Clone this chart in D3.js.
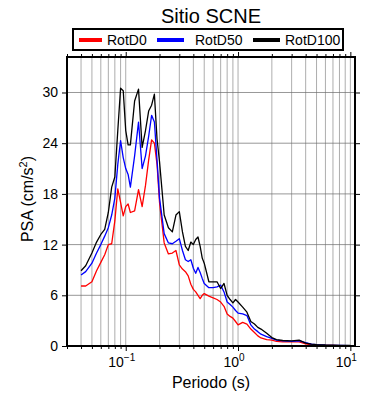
<!DOCTYPE html>
<html>
<head>
<meta charset="utf-8">
<script src="https://cdn.jsdelivr.net/npm/d3@7"></script>
<style>
  body { margin: 0; background: #fff; }
  svg { font-family: "Liberation Sans", Arial, Helvetica, sans-serif; }
</style>
</head>
<body>
<svg id="chart" width="390" height="400"></svg>
<script>
// periods (s) and spectral values (cm/s2)
const periods = [0.04, 0.044, 0.05, 0.055, 0.06, 0.065, 0.07, 0.075, 0.08, 0.085, 0.09, 0.095,
  0.1, 0.105, 0.11, 0.12, 0.13, 0.14, 0.15, 0.16, 0.17, 0.18, 0.19, 0.2, 0.22, 0.24, 0.26, 0.28,
  0.3, 0.32, 0.34, 0.36, 0.38, 0.4, 0.42, 0.44, 0.46, 0.48, 0.5, 0.55, 0.6, 0.65, 0.7, 0.75, 0.8,
  0.85, 0.9, 0.95, 1.0, 1.1, 1.2, 1.3, 1.4, 1.5, 1.6, 1.8, 2.0, 2.2, 2.5, 3.0, 3.5, 4.0, 4.5,
  5.0, 6.0, 7.0, 8.0, 10];
const rotD0 = [7.1, 7.1, 7.6, 8.9, 9.9, 10.8, 12.0, 12.1, 14.8, 18.6, 17.0, 15.4,
  16.5, 16.8, 15.8, 16.0, 18.5, 16.5, 19.0, 22.0, 24.4, 24.0, 21.5, 17.0, 12.2, 10.9, 11.0, 11.3,
  9.6, 9.1, 8.8, 8.3, 7.3, 6.7, 6.4, 6.0, 5.6, 6.0, 6.2, 5.9, 5.7, 5.5, 5.2, 4.7, 3.8,
  3.5, 3.3, 2.9, 2.5, 2.8, 2.6, 2.0, 1.6, 1.2, 0.95, 0.75, 0.7, 0.55, 0.5, 0.5, 0.5, 0.25, 0.15,
  0.1, 0.08, 0.06, 0.05, 0.04];
const rotD50 = [8.4, 8.8, 9.8, 11.0, 12.0, 13.0, 14.0, 15.5, 17.5, 21.5, 24.3, 22.3,
  21.0, 20.3, 18.8, 22.5, 26.5, 21.0, 22.5, 24.8, 27.3, 26.5, 22.0, 17.5, 13.3, 12.2, 12.1, 12.4,
  12.7, 11.3, 10.2, 10.0, 10.2, 9.2, 8.6, 9.3, 8.7, 8.0, 7.4, 6.9, 6.9, 7.0, 7.2, 6.4, 5.2,
  4.9, 4.6, 4.2, 3.9, 3.8, 3.6, 2.5, 2.0, 1.7, 1.4, 1.1, 0.9, 0.7, 0.6, 0.55, 0.6, 0.4, 0.22,
  0.15, 0.1, 0.08, 0.07, 0.05];
const rotD100 = [8.9, 9.5, 11.0, 12.3, 13.2, 13.8, 15.8, 18.8, 20.0, 25.5, 30.5, 30.2,
  25.5, 23.8, 23.8, 29.0, 30.4, 23.5, 25.5, 27.8, 28.5, 29.8, 24.5, 21.8, 15.5, 14.0, 13.5, 15.5,
  15.9, 13.5, 11.8, 11.3, 12.3, 12.0, 12.6, 12.9, 11.8, 10.4, 9.8, 7.6, 7.6, 7.6, 6.8, 7.4, 6.0,
  5.5, 5.1, 5.5, 5.2, 4.6, 4.0, 2.9, 2.6, 2.2, 2.0, 1.5, 1.0, 0.75, 0.65, 0.6, 0.7, 0.35, 0.22,
  0.17, 0.12, 0.1, 0.08, 0.06];

const seriesNames = ['RotD0', 'RotD50', 'RotD100'];
const seriesColors = ['#ff0000', '#0000ff', '#000000'];
const seriesValues = [rotD0, rotD50, rotD100];

const yTicks = [0, 6, 12, 18, 24, 30];
const xMajor = [0.1, 1, 10];
const xExponents = ['\u22121', '0', '1'];

const plotL = 67, plotR = 355, plotT = 57, plotB = 346;

const svg = d3.select('#chart');
const x = d3.scaleLog().domain([0.03, 11]).range([plotL, plotR]);
const y = d3.scaleLinear().domain([0, 34.2]).range([plotB, plotT]);

const xMinor = x.ticks().filter(t => !xMajor.includes(t));

// grid
const grid = svg.append('g').attr('stroke', '#8a8a8a').attr('stroke-width', 0.7);
grid.selectAll('.vg')
  .data(x.ticks())
  .join('line')
  .attr('x1', d => x(d)).attr('x2', d => x(d))
  .attr('y1', plotT).attr('y2', plotB);
grid.selectAll('.hg')
  .data(yTicks.filter(d => d > 0))
  .join('line')
  .attr('x1', plotL).attr('x2', plotR)
  .attr('y1', d => y(d)).attr('y2', d => y(d))
  .attr('stroke', '#6a6a6a');

// curves
const line = d3.line()
  .x((d, i) => x(periods[i]))
  .y(d => y(d));

svg.append('g')
  .selectAll('path')
  .data(seriesValues)
  .join('path')
  .attr('d', d => line(d))
  .attr('fill', 'none')
  .attr('stroke', (d, i) => seriesColors[i])
  .attr('stroke-width', 1.3)
  .attr('stroke-linejoin', 'round');

// axes ticks
function tickAxis(axis, transform) {
  const g = svg.append('g').attr('transform', transform).call(axis);
  g.select('.domain').remove();
  g.selectAll('line').attr('stroke', '#000').attr('stroke-width', 1);
  return g;
}
tickAxis(d3.axisBottom(x).tickValues(xMinor).tickSize(3).tickFormat(''), `translate(0,${plotB})`);
tickAxis(d3.axisBottom(x).tickValues(xMajor).tickSize(5).tickFormat(''), `translate(0,${plotB})`);
tickAxis(d3.axisTop(x).tickValues(xMinor).tickSize(3).tickFormat(''), `translate(0,${plotT})`);
tickAxis(d3.axisTop(x).tickValues(xMajor).tickSize(5).tickFormat(''), `translate(0,${plotT})`);
tickAxis(d3.axisRight(y).tickValues(yTicks).tickSize(5).tickFormat(''), `translate(${plotR},0)`);

const yAxis = tickAxis(d3.axisLeft(y).tickValues(yTicks).tickSize(5).tickPadding(4), `translate(${plotL},0)`);
yAxis.selectAll('text')
  .attr('font-size', 14)
  .attr('font-family', '"Liberation Sans", Arial, sans-serif')
  .attr('fill', '#000');

// x tick labels with superscript exponent
const xl = svg.append('g').attr('font-size', 14).attr('fill', '#000');
xMajor.forEach((t, i) => {
  const txt = xl.append('text')
    .attr('x', x(t) - 4)
    .attr('y', 367)
    .attr('text-anchor', 'middle');
  txt.append('tspan').text('10');
  txt.append('tspan').attr('dy', -6).attr('font-size', 10).text(xExponents[i]);
});

// frame
svg.append('rect')
  .attr('x', plotL).attr('y', plotT)
  .attr('width', plotR - plotL).attr('height', plotB - plotT)
  .attr('fill', 'none').attr('stroke', '#000').attr('stroke-width', 2);

// axis titles
svg.append('text')
  .attr('x', (plotL + plotR) / 2).attr('y', 388)
  .attr('text-anchor', 'middle').attr('font-size', 16)
  .text('Periodo (s)');

const yt = svg.append('text')
  .attr('transform', 'translate(33,199) rotate(-90)')
  .attr('text-anchor', 'middle').attr('font-size', 16);
yt.append('tspan').text('PSA (cm/s');
yt.append('tspan').attr('dy', -6).attr('font-size', 11).text('2');
yt.append('tspan').attr('dy', 6).text(')');

// title
svg.append('text')
  .attr('x', (plotL + plotR) / 2).attr('y', 23)
  .attr('text-anchor', 'middle').attr('font-size', 20)
  .text('Sitio SCNE');

// legend
const legend = svg.append('g');
legend.append('rect')
  .attr('x', 73).attr('y', 29).attr('width', 270).attr('height', 21)
  .attr('fill', '#fff').attr('stroke', '#000').attr('stroke-width', 2);
const legendX = [79, 157, 253];
const legendLen = [23, 27, 27];
const legendTextX = [107, 195, 285];
seriesNames.forEach((name, i) => {
  legend.append('line')
    .attr('x1', legendX[i]).attr('x2', legendX[i] + legendLen[i])
    .attr('y1', 40).attr('y2', 40)
    .attr('stroke', seriesColors[i]).attr('stroke-width', 4);
  legend.append('text')
    .attr('x', legendTextX[i]).attr('y', 45)
    .attr('font-size', 14)
    .text(name);
});
</script>
</body>
</html>
